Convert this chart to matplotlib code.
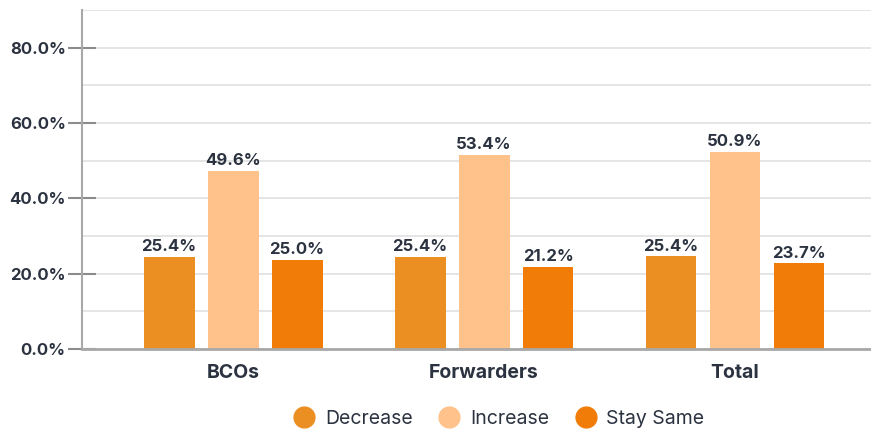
import matplotlib.pyplot as plt
from matplotlib.lines import Line2D
import numpy as np

categorias = ['BCOs', 'Forwarders', 'Total']
series = ['Decrease', 'Increase', 'Stay Same']
cores = ['#ec8f23', '#fec28a', '#f17c07']

# bar heights as drawn in the picture (%)
decrease = [24.5, 24.5, 24.6]
increase = [47.3, 51.5, 52.3]
stay_same = [23.7, 21.9, 22.7]

# printed labels
rotulos_decrease = ['25.4%', '25.4%', '25.4%']
rotulos_increase = ['49.6%', '53.4%', '50.9%']
rotulos_stay = ['25.0%', '21.2%', '23.7%']

texto = '#2b3240'
plt.rcParams['font.family'] = ['Inter', 'DejaVu Sans']

fig = plt.figure(figsize=(8.71, 4.29), dpi=100)
ax = fig.add_axes([82 / 871, 80 / 429, 1 - 82 / 871, 339 / 429])

x = np.arange(len(categorias))
largura = 0.203
passo = 0.255
valores = [decrease, increase, stay_same]
rotulos = [rotulos_decrease, rotulos_increase, rotulos_stay]

for i, (vals, labs, cor) in enumerate(zip(valores, rotulos, cores)):
    pos = x + (i - 1) * passo
    ax.bar(pos, vals, width=largura, color=cor, zorder=3)
    for px, v, lab in zip(pos, vals, labs):
        ax.text(px, v + 0.7, lab, ha='center', va='bottom', fontsize=12,
                fontweight='bold', color=texto, zorder=4)

ax.set_xlim(-0.602, 2.542)
ax.set_ylim(0, 90)
ax.set_yticks([0, 20, 40, 60, 80])
ax.set_yticks([10, 30, 50, 70, 90], minor=True)
ax.yaxis.grid(True, which='both', color='#e3e3e3', linewidth=1.3, zorder=0)
ax.set_yticklabels(['0.0%', '20.0%', '40.0%', '60.0%', '80.0%'],
                   fontsize=12, fontweight='bold', color=texto)
ax.tick_params(axis='y', which='major', direction='inout', length=19.5, width=1.5,
               color='#8c8c8c', pad=2)
ax.tick_params(axis='y', which='minor', length=0)

ax.set_xticks(x)
ax.set_xticklabels(categorias, fontsize=14, fontweight='bold', color=texto)
ax.tick_params(axis='x', length=0, pad=11)

for lado in ['top', 'right']:
    ax.spines[lado].set_visible(False)
ax.spines['left'].set_color('#a8a8a8')
ax.spines['left'].set_linewidth(1.5)
ax.spines['bottom'].set_color('#a8a8a8')
ax.spines['bottom'].set_linewidth(2)
ax.spines['bottom'].set_zorder(5)

handles = [Line2D([0], [0], marker='o', linestyle='', markersize=15,
                  markerfacecolor=c, markeredgecolor=c) for c in cores]
fig.legend(handles, series, loc='center', bbox_to_anchor=(0.568, 1 - 419 / 429),
           ncol=3, frameon=False, fontsize=14, handletextpad=0.05,
           columnspacing=0.9, labelcolor=texto)

fig.savefig('out.png', dpi=100)
